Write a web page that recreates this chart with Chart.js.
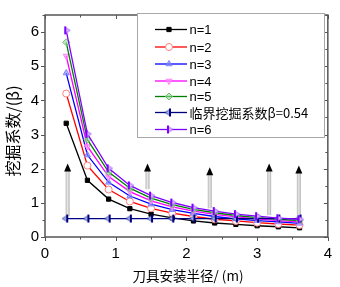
<!DOCTYPE html>
<html>
<head>
<meta charset="utf-8">
<script src="https://cdn.jsdelivr.net/npm/chart.js@4.4.0/dist/chart.umd.min.js"></script>
<style>
html,body{margin:0;padding:0;background:#fff;}
#wrap{width:340px;height:287px;}
</style>
</head>
<body>
<div id="wrap"><canvas id="c" width="340" height="287"></canvas></div>
<script>
// ---- data ----
const radius = [0.3, 0.6, 0.9, 1.2, 1.5, 1.8, 2.1, 2.4, 2.7, 3.0, 3.3, 3.6];
const n1 = [3.33, 1.66, 1.11, 0.83, 0.67, 0.56, 0.47, 0.41, 0.37, 0.33, 0.30, 0.27];
const n2 = [4.20, 2.09, 1.39, 1.04, 0.84, 0.70, 0.60, 0.52, 0.47, 0.42, 0.38, 0.35];
const n3 = [4.80, 2.40, 1.60, 1.20, 0.96, 0.80, 0.69, 0.60, 0.53, 0.48, 0.44, 0.40];
const n4 = [5.30, 2.65, 1.77, 1.33, 1.06, 0.88, 0.76, 0.66, 0.59, 0.53, 0.48, 0.44];
const n5 = [5.70, 2.85, 1.90, 1.43, 1.14, 0.95, 0.81, 0.71, 0.63, 0.57, 0.52, 0.48];
const n6 = [6.05, 3.02, 2.01, 1.51, 1.21, 1.01, 0.86, 0.76, 0.67, 0.61, 0.55, 0.52];
const critical = [0.54, 0.54, 0.54, 0.54, 0.54, 0.54, 0.54, 0.54, 0.54, 0.54, 0.54, 0.54];
const seriesLabels = ["n=1", "n=2", "n=3", "n=4", "n=5", "临界挖掘系数β=0.54", "n=6"];
const arrowX = [0.32, 1.45, 2.33, 3.17, 3.59];
const arrowFrom = [0.61, 1.40, 0.84, 0.64, 0.56];
const arrowTo = [2.15, 2.15, 2.04, 2.15, 2.09];
const xTicks = [0, 1, 2, 3, 4];
const yTicks = [0, 1, 2, 3, 4, 5, 6];
const xTitle = "刀具安装半径/ (m)";
const yTitle = "挖掘系数/(β)";

// ---- custom markers ----
function barTriMarker(barColor, triFill, triStroke, dir) {
  const c = document.createElement('canvas');
  c.width = 10; c.height = 10;
  const g = c.getContext('2d');
  g.fillStyle = triFill; g.strokeStyle = triStroke; g.lineWidth = 0.8;
  g.beginPath();
  if (dir < 0) { g.moveTo(1, 5); g.lineTo(6, 2); g.lineTo(6, 8); }
  else { g.moveTo(9, 5); g.lineTo(4, 2); g.lineTo(4, 8); }
  g.closePath(); g.fill(); g.stroke();
  g.fillStyle = barColor;
  g.fillRect(dir < 0 ? 5 : 3, 1, 2, 8);
  return c;
}
const critMarker = barTriMarker('#000080', '#9fb0e8', '#3040a0', -1);
const n6Marker = barTriMarker('#8000ff', '#d8b8ff', '#a060ff', 1);

function pts(arr) { return arr.map((v, i) => ({ x: radius[i], y: v })); }

const datasets = [
  { label: seriesLabels[0], data: pts(n1), borderColor: '#000000', backgroundColor: '#000000', pointStyle: 'rect', pointRadius: 3, pointBorderWidth: 1, order: 7 },
  { label: seriesLabels[1], data: pts(n2), borderColor: '#ff0000', backgroundColor: '#ffffff', pointStyle: 'circle', pointRadius: 3.5, pointBorderColor: '#ff8080', pointBorderWidth: 1, order: 6 },
  { label: seriesLabels[2], data: pts(n3), borderColor: '#0000ff', backgroundColor: 'rgba(120,140,255,0.6)', pointStyle: 'triangle', pointRadius: 3.5, pointBorderColor: '#8080ff', pointBorderWidth: 1, order: 5 },
  { label: seriesLabels[3], data: pts(n4), borderColor: '#ff00ff', backgroundColor: 'rgba(255,150,255,0.6)', pointStyle: 'triangle', pointRotation: 180, pointRadius: 3.5, pointBorderColor: '#ff80ff', pointBorderWidth: 1, order: 4 },
  { label: seriesLabels[4], data: pts(n5), borderColor: '#008000', backgroundColor: 'rgba(150,220,150,0.6)', pointStyle: 'rectRot', pointRadius: 3.5, pointBorderColor: '#70c070', pointBorderWidth: 1, order: 3 },
  { label: seriesLabels[5], data: pts(critical), borderColor: '#000080', backgroundColor: '#000080', pointStyle: critMarker, pointRadius: 4, order: 2 },
  { label: seriesLabels[6], data: pts(n6), borderColor: '#8000ff', backgroundColor: '#8000ff', pointStyle: n6Marker, pointRadius: 4, order: 1 }
];
datasets.forEach(d => { d.borderWidth = 1.3; d.tension = 0; d.fill = false; d.showLine = true; });

const AXIS = '#555555';

const decor = {
  id: 'decor',
  beforeDatasetsDraw(chart) {
    const ctx = chart.ctx, xs = chart.scales.x, ys = chart.scales.y;
    ctx.save();
    for (let i = 0; i < arrowX.length; i++) {
      const px = xs.getPixelForValue(arrowX[i]);
      const y0 = ys.getPixelForValue(arrowFrom[i]);
      const y1 = ys.getPixelForValue(arrowTo[i]);
      const grad = ctx.createLinearGradient(px - 2, 0, px + 2, 0);
      grad.addColorStop(0, '#b8b8b8'); grad.addColorStop(0.5, '#e6e6e6'); grad.addColorStop(1, '#b0b0b0');
      ctx.fillStyle = grad;
      ctx.fillRect(px - 2, y1 + 7, 4, y0 - y1 - 7);
      ctx.fillStyle = '#000';
      ctx.beginPath();
      ctx.moveTo(px, y1); ctx.lineTo(px - 3.5, y1 + 8); ctx.lineTo(px + 3.5, y1 + 8);
      ctx.closePath(); ctx.fill();
    }
    ctx.restore();
  },
  afterDraw(chart) {
    const ctx = chart.ctx, a = chart.chartArea, xs = chart.scales.x, ys = chart.scales.y;
    ctx.save();
    // frame
    ctx.strokeStyle = AXIS; ctx.lineWidth = 1.5;
    ctx.strokeRect(a.left, a.top, a.right - a.left, a.bottom - a.top);
    // ticks
    ctx.lineWidth = 1;
    for (let v = 0; v <= 4.001; v += 0.5) {
      const px = Math.round(xs.getPixelForValue(v)) + 0.5;
      const L = (Math.abs(v - Math.round(v)) < 1e-6) ? 4 : 2.5;
      ctx.beginPath();
      ctx.moveTo(px, a.bottom); ctx.lineTo(px, a.bottom + L);
      ctx.moveTo(px, a.top); ctx.lineTo(px, a.top + L);
      ctx.stroke();
    }
    for (let v = 0; v <= 6.501; v += 0.5) {
      const py = Math.round(ys.getPixelForValue(v)) + 0.5;
      const L = (Math.abs(v - Math.round(v)) < 1e-6) ? 4 : 2.5;
      ctx.beginPath();
      ctx.moveTo(a.left, py); ctx.lineTo(a.left - L, py);
      ctx.moveTo(a.right, py); ctx.lineTo(a.right - L, py);
      ctx.stroke();
    }
    // axis titles
    ctx.fillStyle = '#000';
    ctx.textAlign = 'center'; ctx.textBaseline = 'middle';
    ctx.font = '13.5px "Noto Sans CJK SC", "Liberation Sans", sans-serif';
    ctx.fillText(xTitle, 188, 276);
    ctx.save();
    ctx.translate(13, 131); ctx.rotate(-Math.PI / 2);
    ctx.font = '16px "Noto Sans CJK SC", "Liberation Sans", sans-serif';
    ctx.fillText(yTitle, 0, 0);
    ctx.restore();
    // legend
    const L = { left: 137, top: 13, right: 324, bottom: 137 };
    ctx.fillStyle = '#fff';
    ctx.fillRect(L.left, L.top, L.right - L.left, L.bottom - L.top);
    ctx.strokeStyle = '#a8a8a8'; ctx.lineWidth = 1;
    ctx.strokeRect(L.left + 0.5, L.top + 0.5, L.right - L.left, L.bottom - L.top);
    const rowY = [29.5, 47, 64, 81, 96.5, 112.5, 129.5];
    chart.data.datasets.forEach((d, i) => {
      const y = rowY[i];
      ctx.strokeStyle = d.borderColor; ctx.lineWidth = 1.3;
      ctx.beginPath(); ctx.moveTo(155, y); ctx.lineTo(187, y); ctx.stroke();
      ctx.fillStyle = d.backgroundColor;
      ctx.strokeStyle = d.pointBorderColor || d.borderColor;
      ctx.lineWidth = d.pointBorderWidth || 1;
      Chart.helpers.drawPoint(ctx, { pointStyle: d.pointStyle, rotation: d.pointRotation || 0, radius: d.pointRadius, borderWidth: d.pointBorderWidth || 1 }, 169, y);
      ctx.fillStyle = '#000';
      ctx.textAlign = 'left'; ctx.textBaseline = 'middle';
      ctx.font = (i === 5 ? '13px "Noto Sans CJK SC", sans-serif' : '13px "Liberation Sans", Arial, sans-serif');
      ctx.fillText(d.label, 189.5, y + 1);
    });
    ctx.restore();
  }
};

new Chart(document.getElementById('c'), {
  type: 'scatter',
  data: { datasets },
  options: {
    responsive: false,
    animation: false,
    devicePixelRatio: 1,
    layout: { padding: { top: 5, right: 8, left: 0, bottom: 0 } },
    plugins: { legend: { display: false }, tooltip: { enabled: false } },
    elements: { point: { hoverRadius: 4 } },
    scales: {
      x: {
        type: 'linear', min: 0, max: 4,
        afterBuildTicks: s => { s.ticks = xTicks.map(v => ({ value: v })); },
        afterFit: s => { s.height = 50; },
        grid: { display: false, drawTicks: false },
        border: { display: false },
        ticks: { font: { family: '"Liberation Sans", Arial, sans-serif', size: 15 }, color: '#000', padding: 8, maxRotation: 0, callback: v => String(v) }
      },
      y: {
        type: 'linear', min: 0, max: 6.5,
        afterBuildTicks: s => { s.ticks = yTicks.map(v => ({ value: v })); },
        afterFit: s => { s.width = 45; },
        grid: { display: false, drawTicks: false },
        border: { display: false },
        ticks: { font: { family: '"Liberation Sans", Arial, sans-serif', size: 15 }, color: '#000', padding: 6, callback: v => String(v) }
      }
    }
  },
  plugins: [decor]
});
</script>
</body>
</html>
